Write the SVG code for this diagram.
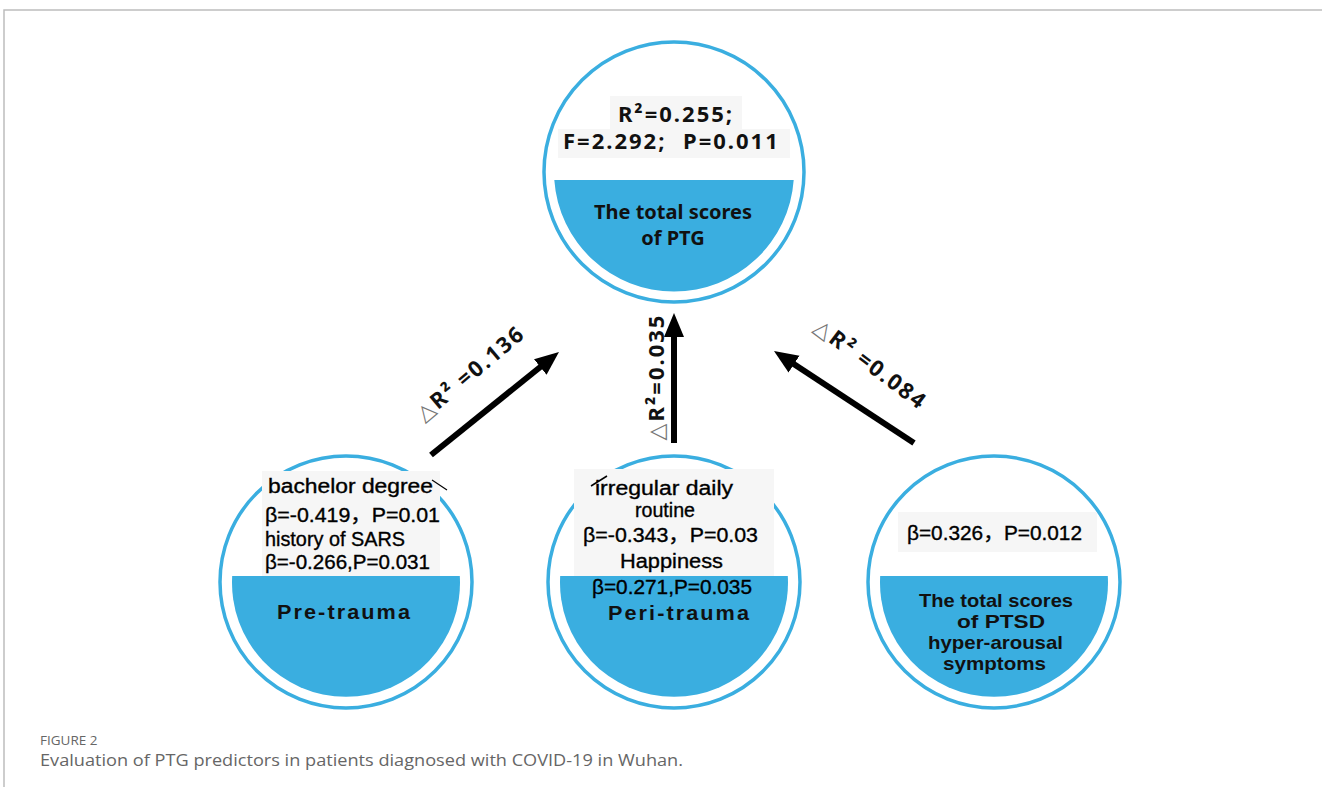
<svg xmlns="http://www.w3.org/2000/svg" width="1322" height="787" viewBox="0 0 1322 787">
<style>
.ring{fill:#fff;stroke:#3aaee0;stroke-width:3.5}
.fill{fill:#3aaee0}
.bg{fill:#f6f6f6}
.hd{font-family:"Noto Sans","Open Sans",sans-serif;font-weight:bold;fill:#111;font-size:20px;text-anchor:middle}
.hd2{font-family:"Liberation Sans",sans-serif;font-weight:bold;fill:#111;font-size:18.5px}
.st{font-family:"Noto Sans","Open Sans",sans-serif;font-weight:bold;fill:#111;font-size:22px;letter-spacing:2px}
.tr{font-family:"Liberation Sans",sans-serif;font-weight:bold;fill:#111;font-size:21px;letter-spacing:2px}
.ar{font-family:"Liberation Sans","Noto Sans CJK SC",sans-serif;fill:#000;stroke:#000;stroke-width:0.35;font-size:20px}
.lab{font-family:"Noto Sans","DejaVu Sans",sans-serif;font-weight:bold;fill:#111;font-size:22px;letter-spacing:2px;text-anchor:middle}
.tri{fill:#777;font-weight:normal}
.cap{font-family:"Open Sans","Noto Sans",sans-serif;fill:#666}
.conn{stroke:#000;stroke-width:6;fill:none;marker-end:url(#ah)}
</style>
<defs>
<marker id="ah" markerUnits="userSpaceOnUse" markerWidth="26" markerHeight="22" refX="4" refY="10" orient="auto">
<path d="M0,0 L24,10 L0,20 Z" fill="#000"/>
</marker>
</defs>
<rect width="1322" height="787" fill="#fff"/>
<path d="M4,787 V10 H1322" fill="none" stroke="#bdbdbd" stroke-width="1.5"/>

<g id="node-ptg">
<circle class="ring" cx="674" cy="172" r="130"/>
<rect class="bg" x="610" y="96" width="132" height="33"/>
<rect class="bg" x="558" y="129" width="232" height="29"/>
<path class="fill" d="M554.3,180 H793.7 A120,120 0 0 1 554.3,180 Z"/>
<text class="st" x="676" y="122" text-anchor="middle">R²=0.255;</text>
<text class="st" y="149"><tspan x="563">F=2.292;</tspan><tspan x="683">P=0.011</tspan></text>
<text class="hd" x="673" y="219">The total scores</text>
<text class="hd" x="673" y="245">of PTG</text>
</g>

<g id="node-pre">
<circle class="ring" cx="346" cy="582" r="126"/>
<rect class="bg" x="262" y="471" width="178" height="105"/>
<path class="fill" d="M232.2,576 H459.8 A114,114 0 1 1 232.2,576 Z"/>
<line x1="432" y1="480" x2="447" y2="490" stroke="#000" stroke-width="1.2"/>
<text class="ar" x="268" y="493" textLength="165" lengthAdjust="spacingAndGlyphs">bachelor  degree</text>
<text class="ar" x="265" y="522" textLength="175" lengthAdjust="spacingAndGlyphs">β=-0.419，P=0.01</text>
<text class="ar" x="265" y="546" textLength="140" lengthAdjust="spacingAndGlyphs">history of SARS</text>
<text class="ar" x="265" y="569" textLength="165" lengthAdjust="spacingAndGlyphs">β=-0.266,P=0.031</text>
<text class="tr" x="277" y="619" textLength="135" lengthAdjust="spacingAndGlyphs">Pre-trauma</text>
</g>

<g id="node-peri">
<circle class="ring" cx="674" cy="582" r="126"/>
<rect class="bg" x="574" y="469" width="200" height="107"/>
<path class="fill" d="M560.2,576 H787.8 A114,114 0 1 1 560.2,576 Z"/>
<line x1="591" y1="486" x2="607" y2="476" stroke="#000" stroke-width="1.5"/>
<text class="ar" x="595" y="495" textLength="138" lengthAdjust="spacingAndGlyphs">irregular daily</text>
<text class="ar" x="635" y="517" textLength="60" lengthAdjust="spacingAndGlyphs">routine</text>
<text class="ar" x="583" y="542" textLength="175" lengthAdjust="spacingAndGlyphs">β=-0.343，P=0.03</text>
<text class="ar" x="620" y="568" textLength="103" lengthAdjust="spacingAndGlyphs">Happiness</text>
<text class="ar" x="592" y="594" textLength="160" lengthAdjust="spacingAndGlyphs">β=0.271,P=0.035</text>
<text class="tr" x="608" y="620" textLength="143" lengthAdjust="spacingAndGlyphs">Peri-trauma</text>
</g>

<g id="node-ptsd">
<circle class="ring" cx="994" cy="582" r="126"/>
<rect class="bg" x="898" y="512" width="199" height="40"/>
<path class="fill" d="M880.2,576 H1107.8 A114,114 0 1 1 880.2,576 Z"/>
<text class="ar" x="907" y="540" textLength="175" lengthAdjust="spacingAndGlyphs">β=0.326，P=0.012</text>
<text class="hd2" x="919" y="607" textLength="154" lengthAdjust="spacingAndGlyphs">The total scores</text>
<text class="hd2" x="957" y="628" textLength="88" lengthAdjust="spacingAndGlyphs">of PTSD</text>
<text class="hd2" x="928" y="649" textLength="135" lengthAdjust="spacingAndGlyphs">hyper-arousal</text>
<text class="hd2" x="943" y="670" textLength="103" lengthAdjust="spacingAndGlyphs">symptoms</text>
</g>

<g id="connectors">
<line class="conn" x1="431" y1="455" x2="543.4" y2="364.5"/>
<line class="conn" x1="674" y1="443" x2="674" y2="333"/>
<line class="conn" x1="914" y1="443" x2="790.7" y2="362"/>
<text class="lab" transform="translate(470,373) rotate(-40)" y="8"><tspan class="tri">△</tspan>R² =0.136</text>
<text class="lab" transform="translate(664,377) rotate(-90)"><tspan class="tri">△</tspan>R²=0.035</text>
<text class="lab" transform="translate(871,364) rotate(37)" y="8"><tspan class="tri">△</tspan>R² =0.084</text>
</g>

<text class="cap" x="40" y="745" style="font-size:13.5px">FIGURE 2</text>
<text class="cap" x="40" y="766" style="font-size:17px" textLength="643" lengthAdjust="spacingAndGlyphs">Evaluation of PTG predictors in patients diagnosed with COVID-19 in Wuhan.</text>
</svg>
